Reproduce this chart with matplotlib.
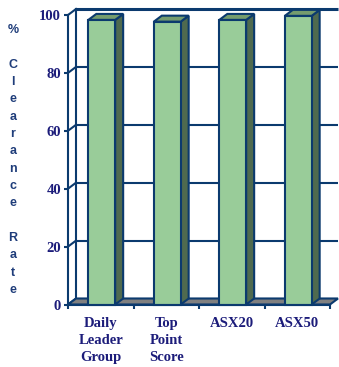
import matplotlib
matplotlib.use("Agg")
import matplotlib.pyplot as plt
from matplotlib.patches import Polygon
import numpy as np

categories = ["Daily\nLeader\nGroup", "Top\nPoint\nScore", "ASX20", "ASX50"]
values = [98.3, 97.7, 98.3, 99.7]
yticks = [0, 20, 40, 60, 80, 100]
ylabel_lines = ["%", "", "C", "l", "e", "a", "r", "a", "n", "c", "e", "", "R", "a", "t", "e"]

W, H = 339, 367
fig = plt.figure(figsize=(W / 100, H / 100), dpi=100)
fig.patch.set_facecolor("white")

# axes: front plane, x 0..4 -> px 68..330, y 0..100 -> px 304.5..15
x0px, x1px, y0px, y1px = 68, 330, 304.5, 15
ax = fig.add_axes([x0px / W, (H - y0px) / H, (x1px - x0px) / W, (y0px - y1px) / H])
ax.set_xlim(0, 4)
ax.set_ylim(0, 100)
ax.set_facecolor("none")

navy = "#0B3A6E"
lw = 1.5
pxx = (x1px - x0px) / 4.0
pxy = (y0px - y1px) / 100.0
dx = 8 / pxx
dy = 6 / pxy

# back wall gridlines
for v in yticks:
    ax.plot([dx, 4 + dx], [v + dy, v + dy], color=navy, lw=lw if v < 100 else 2.2,
            clip_on=False, zorder=1, solid_capstyle="butt")
    # left wall diagonal
    ax.plot([0, dx], [v, v + dy], color=navy, lw=lw, clip_on=False, zorder=1)
ax.plot([dx, dx], [dy, 100 + dy], color=navy, lw=lw, clip_on=False, zorder=1)

# floor
floor = Polygon([(0, 0), (4, 0), (4 + dx, dy), (dx, dy)], closed=True,
                facecolor="#808080", edgecolor=navy, lw=lw, clip_on=False, zorder=2)
ax.add_patch(floor)

# bars
front_c = "#99CC99"
side_c = "#4F6A4F"
top_c = "#759C6E"
bw = 0.41
centers = np.arange(len(values)) + 0.5 + 0.015
ax.bar(centers, values, width=bw, color=front_c, edgecolor=navy, lw=lw,
       clip_on=False, zorder=5)
for c, v in zip(centers, values):
    xl, xr = c - bw / 2, c + bw / 2
    side = Polygon([(xr, 0), (xr + dx, dy), (xr + dx, v + dy), (xr, v)], closed=True,
                   facecolor=side_c, edgecolor=navy, lw=lw, clip_on=False, zorder=4)
    top = Polygon([(xl, v), (xr, v), (xr + dx, v + dy), (xl + dx, v + dy)], closed=True,
                  facecolor=top_c, edgecolor=navy, lw=lw, clip_on=False, zorder=4)
    ax.add_patch(side)
    ax.add_patch(top)

# spines and ticks
for s in ["top", "right"]:
    ax.spines[s].set_visible(False)
for s in ["left", "bottom"]:
    ax.spines[s].set_color(navy)
    ax.spines[s].set_linewidth(lw)
    ax.spines[s].set_zorder(6)

tick_font = dict(family="Liberation Serif", weight="bold", size=10.5)
tick_color = "#1C1C7A"
ax.set_yticks(yticks)
ax.set_yticklabels([str(t) for t in yticks], fontdict=tick_font, color=tick_color)
ax.tick_params(axis="y", direction="out", length=3, width=lw, color=navy, pad=2)

ax.set_xticks([0, 1, 2, 3, 4])
ax.set_xticklabels([])
ax.set_xticks(np.arange(len(categories)) + 0.5, minor=True)
ax.set_xticklabels(categories, minor=True, fontdict=tick_font, color=tick_color,
                   linespacing=1.38, va="top")
ax.tick_params(axis="x", which="major", direction="out", length=3, width=lw, color=navy)
ax.tick_params(axis="x", which="minor", length=0, pad=9)

# stacked y label
lab_font = dict(family="Liberation Sans", weight="bold", size=9)
ytop, ybot = 30, 290
step = (ybot - ytop) / (len(ylabel_lines) - 1)
for i, ch in enumerate(ylabel_lines):
    if ch:
        fig.text(13 / W, 1 - (ytop + i * step) / H, ch, ha="center", va="center",
                 color="#1F3D7A", **lab_font)

fig.savefig("out.png", dpi=100, facecolor="white")
